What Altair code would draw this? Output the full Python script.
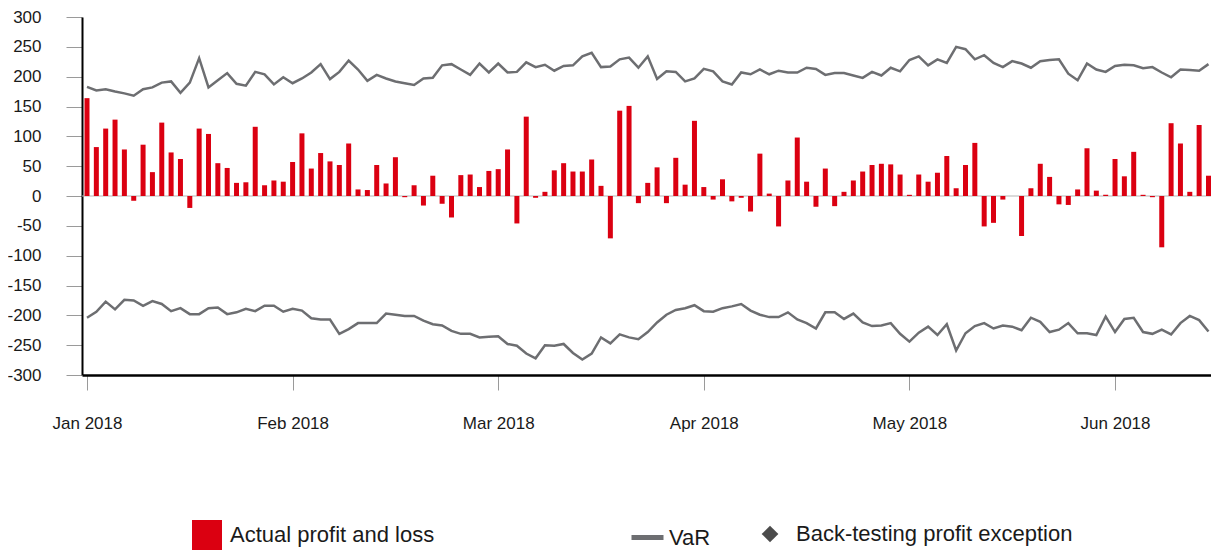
import json
import altair as alt
import pandas as pd

# ---------------- data ----------------
pnl = [164, 82, 113, 128, 78, -8, 86, 40, 123, 73, 62, -20, 113, 104, 55, 47, 22, 23, 116, 18, 26, 24, 57,
       105, 46, 72, 58, 52, 88, 11, 10, 52, 21, 65, -2, 18, -16, 34, -13, -36, 35, 36, 15, 42, 45, 78, -46,
       133, -3, 7, 43, 55, 41, 41, 61, 17, -71, 143, 151, -12, 22, 48, -12, 64, 19, 126, 15, -6, 28, -9,
       -3, -26, 71, 4, -51, 26, 98, 24, -18, 46, -17, 7, 26, 41, 52, 54, 53, 36, 2, 36, 24,
       39, 67, 13, 52, 89, -51, -45, -6, 0, -67, 13, 54, 32, -14, -15, 11, 80, 9, 2, 62, 33, 74, 2, -2,
       -86, 122, 88, 7, 119, 34]

var_upper = [183, 177, 179, 175, 172, 168, 179, 182, 190, 192, 173, 190, 231, 182, 194, 206, 188, 185, 208, 204, 187, 199, 189,
             197, 207, 221, 196, 208, 227, 212, 193, 203, 197, 192, 189, 186, 197, 198, 219, 221, 212, 203, 222, 207, 222, 207, 208,
             224, 216, 220, 210, 218, 219, 234, 240, 216, 217, 229, 232, 215, 234, 196, 209, 208, 192, 197, 213, 209, 192, 187,
             207, 204, 212, 204, 210, 207, 207, 215, 213, 203, 206, 206, 202, 198, 208, 202, 215, 209, 228, 234, 219,
             229, 223, 250, 246, 229, 236, 223, 216, 226, 222, 215, 226, 228, 229, 205, 194, 222, 212, 208, 218, 220, 219, 214, 216,
             207, 199, 212, 211, 210, 221]

var_lower = [-204, -194, -177, -190, -174, -175, -184, -176, -181, -193, -188, -198, -198, -188, -187, -198, -195, -189, -193, -184, -184, -194, -189,
             -192, -205, -207, -207, -231, -223, -213, -213, -213, -197, -199, -201, -201, -209, -215, -217, -226, -231, -231, -237, -236, -235, -248, -251,
             -264, -272, -250, -251, -248, -263, -274, -264, -237, -247, -232, -237, -240, -228, -212, -199, -191, -188, -183, -193, -194, -188, -185,
             -181, -192, -199, -203, -203, -195, -207, -213, -222, -195, -195, -206, -197, -212, -218, -217, -213, -231, -244, -229, -219,
             -233, -215, -259, -230, -218, -213, -222, -217, -219, -225, -204, -211, -228, -224, -213, -230, -230, -233, -202, -228, -206, -204, -228, -231,
             -224, -232, -213, -201, -208, -227]

month_labels = ["Jan 2018", "Feb 2018", "Mar 2018", "Apr 2018", "May 2018", "Jun 2018"]
month_start_day = [0, 22, 44, 66, 88, 110]
y_ticks = [-300, -250, -200, -150, -100, -50, 0, 50, 100, 150, 200, 250, 300]
zero_line = [0]

PNL_LABEL = "Actual profit and loss"
VAR_LABEL = "VaR"
EXC_LABEL = "Back-testing profit exception"

RED = "#db0011"
GREY = "#6d6e71"
FONT = "Liberation Sans"

# ---------------- tables ----------------
n = len(pnl)
day = list(range(n))
pl_df = pd.DataFrame({"day": day, "pnl": pnl, "upper": var_upper, "lower": var_lower})
pl_df["series"] = PNL_LABEL

var_df = pd.concat([
    pd.DataFrame({"day": day, "var": var_upper, "bound": "upper"}),
    pd.DataFrame({"day": day, "var": var_lower, "bound": "lower"}),
], ignore_index=True)
var_df["series"] = VAR_LABEL

zero_df = pd.DataFrame({"y": zero_line})

# ---------------- shared scales / axes ----------------
x_scale = alt.Scale(domain=[-0.535, 120.27], nice=False, zero=False, padding=0)
y_scale = alt.Scale(domain=[-300, 300], nice=False, zero=False, padding=0)

label_expr = f"{json.dumps(month_labels)}[indexof({json.dumps(month_start_day)}, datum.value)]"
x_axis = alt.Axis(values=month_start_day, labelExpr=label_expr, title=None, grid=False,
                  tickSize=15, tickColor="#9a9a9a", tickWidth=1, labelPadding=25,
                  domainColor="#000000", domainWidth=2.5, labelFlush=False, labelAngle=0)
y_axis = alt.Axis(values=y_ticks, labelExpr="'' + datum.value", title=None, grid=False,
                  tickSize=16, tickColor="#9a9a9a", tickWidth=1, labelPadding=25,
                  domainColor="#000000", domainWidth=2)

X = alt.X("day:Q", scale=x_scale, axis=x_axis)

zero_rule = alt.Chart(zero_df).mark_rule(color="#b5b5b5", strokeWidth=1).encode(
    y=alt.Y("y:Q", scale=y_scale, axis=y_axis)
)

bars = alt.Chart(pl_df).mark_bar(size=5).encode(
    x=X,
    y=alt.Y("pnl:Q", scale=y_scale, axis=y_axis),
    color=alt.Color("series:N",
                    scale=alt.Scale(domain=[PNL_LABEL], range=[RED]),
                    legend=alt.Legend(orient="none", legendX=110, legendY=503, title=None,
                                      symbolType="square", symbolSize=900, symbolStrokeWidth=0,
                                      labelOffset=8, padding=0)),
)

lines = alt.Chart(var_df).mark_line(strokeWidth=2.5).encode(
    x=X,
    y=alt.Y("var:Q", scale=y_scale, axis=y_axis),
    detail="bound:N",
    stroke=alt.Stroke("series:N",
                      scale=alt.Scale(domain=[VAR_LABEL], range=[GREY]),
                      legend=alt.Legend(orient="none", legendX=547, legendY=502, title=None,
                                        symbolType="stroke", symbolSize=1024, symbolStrokeWidth=5,
                                        labelOffset=3, padding=0)),
)

exceptions = alt.Chart(pl_df).transform_filter(
    "datum.pnl > datum.upper || datum.pnl < datum.lower"
).transform_calculate(
    exc=f"'{EXC_LABEL}'"
).mark_point(filled=True, color="#000000", size=280).encode(
    x=X,
    y=alt.Y("pnl:Q", scale=y_scale, axis=y_axis),
    shape=alt.Shape("exc:N",
                    scale=alt.Scale(domain=[EXC_LABEL], range=["diamond"]),
                    legend=alt.Legend(orient="none", legendX=677, legendY=506, title=None,
                                      symbolType="diamond", symbolSize=280,
                                      symbolFillColor="#000000", symbolStrokeColor="#000000",
                                      labelOffset=15, padding=0)),
)

chart = alt.layer(zero_rule, bars, lines, exceptions).properties(
    width=1129,
    height=358,
    padding={"left": 74, "top": 9, "right": 0, "bottom": 176},
    autosize=alt.AutoSizeParams(type="none"),
).configure_view(
    strokeWidth=0
).configure_axis(
    labelFont=FONT, labelFontSize=17, labelColor="#1a1a1a"
).configure_legend(
    labelFont=FONT, labelFontSize=22, labelColor="#1a1a1a", labelLimit=400
)

chart.save("out.html", embed_options={"renderer": "svg", "actions": False})
